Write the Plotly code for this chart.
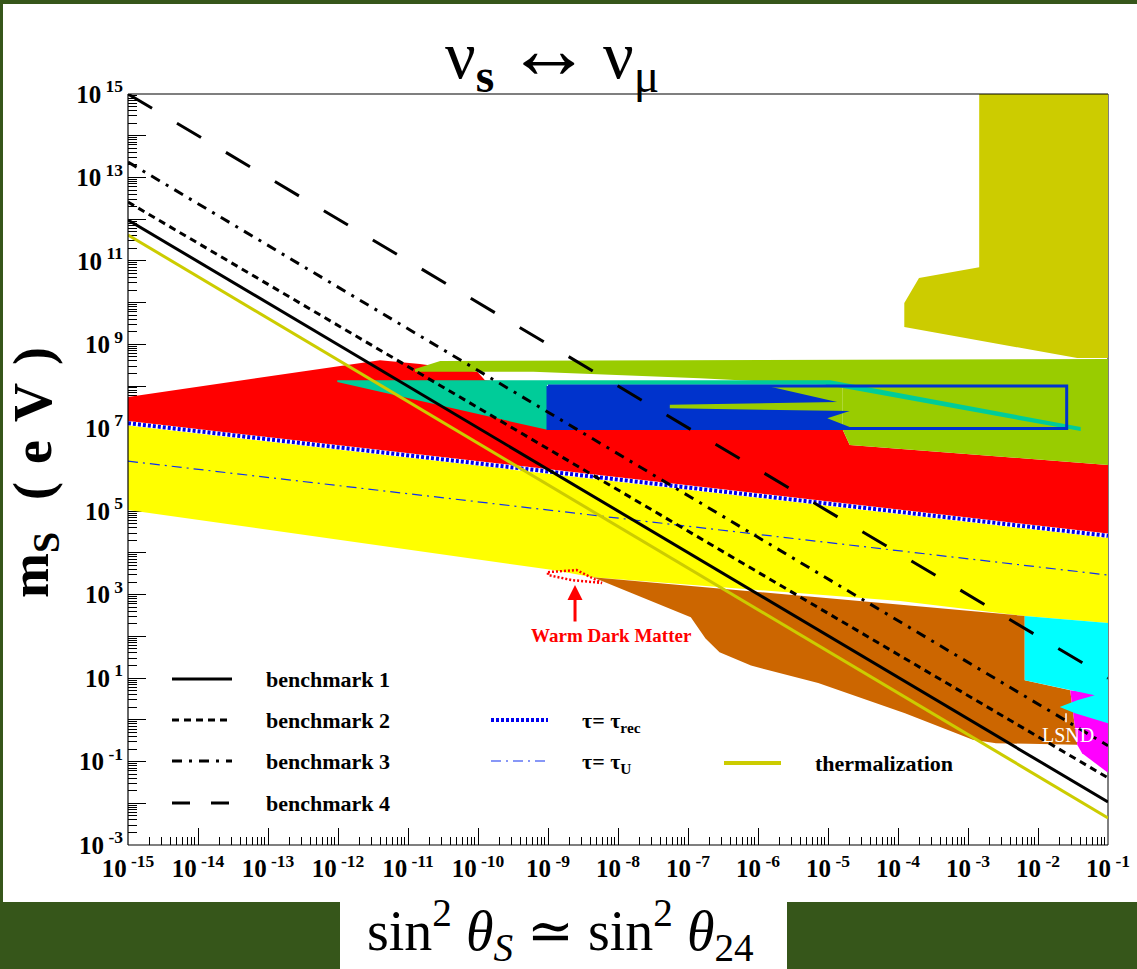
import plotly.graph_objects as go

# ---------------- data (log10 units) ----------------
X_ENDS = [-15.0, -1.0]                 # log10 sin^2(theta) at the two ends of each line
bm1_logm = [11.98, -1.97]
bm2_logm = [12.41, -1.39]
bm3_logm = [13.37, -0.62]
bm4_logm = [15.00, 1.00]
therm_logm = [11.62, -2.35]
tau_rec_logm = [7.11, 4.41]
tau_U_logm = [6.20, 3.47]

red_lx = [-15, -11.40, -10.83, -10.01, -9.90, -9.01, -4.79, -4.69, -1, -1, -15]
red_ly = [7.74, 8.62, 8.53, 8.34, 8.14, 8.00, 6.95, 6.59, 6.11, 4.41, 7.11]

greenA_lx = [-10.90, -10.54, -1, -1, -4.69, -4.79, -4.79, -4.97, -6.83, -9.21, -10.90]
greenA_ly = [8.41, 8.60, 8.65, 6.11, 6.59, 6.95, 8.00, 8.03, 8.19, 8.34, 8.34]
greenB_lx = [-7.40, -4.79, -4.79, -7.40]
greenB_ly = [8.00, 8.00, 6.95, 6.95]

olive_lx = [-2.84, -1, -1, -1.44, -3.91, -3.91, -3.70, -2.84]
olive_ly = [15, 15, 8.67, 8.67, 9.415, 9.99, 10.59, 10.85]

yellow_lx = [-15, -1, -1, -2.19, -3.97, -8.36, -8.93, -15]
yellow_ly = [7.11, 4.41, 2.32, 2.49, 2.85, 3.42, 3.59, 5.03]

brown_lx = [-8.36, -2.19, -2.19, -1.54, -1.44, -2.60, -2.93, -3.90, -5.14, -6.10, -6.55, -6.75, -6.96]
brown_ly = [3.42, 2.49, 0.95, 0.71, -0.60, -0.56, -0.48, 0.16, 0.88, 1.30, 1.62, 1.95, 2.46]

magenta_lx = [-1.54, -1, -1, -1.21, -1.37, -1.44]
magenta_ly = [0.71, 0.59, -1.27, -1.01, -0.80, -0.60]

cyan_lx = [-2.19, -1, -1, -1.47, -1.69, -1.44, -1.19, -1.54, -2.19]
cyan_ly = [2.49, 2.32, -0.08, 0.16, 0.31, 0.47, 0.59, 0.71, 0.95]

teal_lx = [-12.01, -4.97, -1.39, -1.39, -5.04, -9.01, -9.01, -12.01]
teal_ly = [8.14, 8.14, 7.02, 6.92, 8.03, 8.03, 6.95, 8.10]

blue_lx = [-9.01, -5.87, -4.87, -7.26, -7.26, -4.69, -5.01, -4.69, -4.69, -9.01]
blue_ly = [8.00, 8.00, 7.62, 7.55, 7.47, 7.40, 7.23, 7.02, 6.95, 6.95]

box_lx = [-9.0, -1.59, -1.59, -9.0, -9.0]
box_ly = [8.0, 8.0, 6.98, 6.98, 8.0]

wdm_lx = [-9.0, -8.59, -8.23, -8.66, -9.0, -9.0]
wdm_ly = [3.54, 3.59, 3.28, 3.35, 3.47, 3.54]

lsnd_lx = [-1.60, -1.60]
lsnd_ly = [0.16, -0.06]

x_exps = list(range(-15, 0))
y_exps = list(range(-3, 16))

legend_left = ["benchmark 1", "benchmark 2", "benchmark 3", "benchmark 4"]

# ---------------- figure ----------------
W, H = 1137, 969
L, R, T, B = 128, 1108, 94, 845


def px(xpix):
    return (xpix - L) / (R - L)


def py(ypix):
    return (B - ypix) / (B - T)


def tv(a):
    return [10 ** v for v in a]


fig = go.Figure()


def fill(lx, ly, color):
    fig.add_trace(go.Scatter(x=tv(lx), y=tv(ly), mode="lines", fill="toself",
                             fillcolor=color, line=dict(width=0, color=color),
                             hoverinfo="skip", showlegend=False))


fill(red_lx, red_ly, "#FF0000")
fill(greenA_lx, greenA_ly, "#99CC00")
fill(greenB_lx, greenB_ly, "#99CC00")
fill(olive_lx, olive_ly, "#CCCC00")
fill(yellow_lx, yellow_ly, "#FFFF00")
fill(brown_lx, brown_ly, "#CC6600")
fill(magenta_lx, magenta_ly, "#FF00FF")
fill(cyan_lx, cyan_ly, "#00FFFF")
fill(teal_lx, teal_ly, "#00CC99")
fill(blue_lx, blue_ly, "#0033CC")


def line(lx, ly, color, width, dash="solid"):
    fig.add_trace(go.Scatter(x=tv(lx), y=tv(ly), mode="lines",
                             line=dict(color=color, width=width, dash=dash),
                             hoverinfo="skip", showlegend=False))


line(box_lx, box_ly, "#0033CC", 3)
line(wdm_lx, wdm_ly, "#FF0000", 2.5, "2px,2px")
line(lsnd_lx, lsnd_ly, "white", 1.5)

line(X_ENDS, tau_U_logm, "#1030F0", 1.2, "10px,5px,2px,5px")
line(X_ENDS, tau_rec_logm, "white", 4.5)
line(X_ENDS, tau_rec_logm, "#0000EE", 4, "3px,2px")
line(X_ENDS, therm_logm, "#CCCC00", 3)
line(X_ENDS, bm1_logm, "black", 3)
line(X_ENDS, bm2_logm, "black", 3, "7px,5px")
line(X_ENDS, bm3_logm, "black", 3, "10px,7px,3px,7px")
line(X_ENDS, bm4_logm, "black", 3, "28px,29px")

# ---------------- axes ----------------
tick_font = dict(family="Liberation Serif", size=25, color="black")
x_minor = [k * 10.0 ** e for e in x_exps[:-1] for k in range(2, 10)]
y_minor = [k * 10.0 ** e for e in y_exps[:-1] for k in range(2, 10)]

fig.update_xaxes(type="log", range=[-15, -1], showgrid=False, zeroline=False,
                 showline=False, ticks="inside", ticklen=17, tickwidth=1, tickcolor="black",
                 tickvals=[10.0 ** e for e in x_exps],
                 ticktext=["<b>10<sup> %d</sup></b>" % e for e in x_exps],
                 tickfont=tick_font, layer="below traces", ticklabelstandoff=6,
                 automargin=False,
                 minor=dict(ticks="inside", ticklen=8, tickwidth=1, tickcolor="black",
                            tickvals=x_minor, showgrid=False))
fig.update_yaxes(type="log", range=[-3, 15], showgrid=False, zeroline=False,
                 showline=False, ticks="inside", ticklen=18, tickwidth=1, tickcolor="black",
                 tickvals=[10.0 ** e for e in y_exps],
                 ticktext=[("<b>10<sup> %d</sup></b>" % e) if e % 2 else "" for e in y_exps],
                 tickfont=tick_font, layer="below traces", ticklabelstandoff=4,
                 automargin=False,
                 minor=dict(ticks="inside", ticklen=9, tickwidth=1, tickcolor="black",
                            tickvals=y_minor, showgrid=False))

shapes = []
# page background: white panel over dark green border
shapes.append(dict(type="rect", xref="paper", yref="paper", layer="below",
                   x0=px(3), x1=px(1140), y0=py(902), y1=py(4),
                   fillcolor="white", line=dict(width=0)))
shapes.append(dict(type="rect", xref="paper", yref="paper", layer="below",
                   x0=px(340), x1=px(787), y0=py(972), y1=py(901),
                   fillcolor="white", line=dict(width=0)))
# frame
shapes.append(dict(type="line", xref="paper", yref="paper", layer="below",
                   x0=1, x1=1, y0=0, y1=1, line=dict(color="black", width=1)))
for (a, b, c, d) in [(0, 0, 0, 1), (0, 1, 0, 0), (0, 1, 1, 1)]:
    shapes.append(dict(type="line", xref="paper", yref="paper", layer="above",
                       x0=a, x1=b, y0=c, y1=d, line=dict(color="black", width=1.2)))

# legend samples
leg_y = [679, 720, 761, 803]
leg_dash = ["solid", "7px,5px", "10px,7px,3px,7px", "18px,21px"]
for yy, dsh in zip(leg_y, leg_dash):
    shapes.append(dict(type="line", xref="paper", yref="paper",
                       x0=px(172), x1=px(232), y0=py(yy), y1=py(yy),
                       line=dict(color="black", width=3, dash=dsh)))
shapes.append(dict(type="line", xref="paper", yref="paper",
                   x0=px(491), x1=px(548), y0=py(720), y1=py(720),
                   line=dict(color="#0000EE", width=4, dash="3px,2px")))
shapes.append(dict(type="line", xref="paper", yref="paper",
                   x0=px(491), x1=px(548), y0=py(761), y1=py(761),
                   line=dict(color="#1030F0", width=1.2, dash="10px,5px,2px,5px")))
shapes.append(dict(type="line", xref="paper", yref="paper",
                   x0=px(724), x1=px(781), y0=py(763), y1=py(763),
                   line=dict(color="#CCCC00", width=4)))

serif = "Liberation Serif, DejaVu Serif, serif"
ann = []
for yy, name in zip(leg_y, legend_left):
    ann.append(dict(xref="paper", yref="paper", x=px(264), y=py(yy), xanchor="left",
                    yanchor="middle", showarrow=False, text="<b>%s</b>" % name,
                    font=dict(family=serif, size=22, color="black")))
ann.append(dict(xref="paper", yref="paper", x=px(580), y=py(722), xanchor="left",
                yanchor="middle", showarrow=False, text="<b>τ= τ<sub>rec</sub></b>",
                font=dict(family=serif, size=22, color="black")))
ann.append(dict(xref="paper", yref="paper", x=px(580), y=py(763), xanchor="left",
                yanchor="middle", showarrow=False, text="<b>τ= τ<sub>U</sub></b>",
                font=dict(family=serif, size=22, color="black")))
ann.append(dict(xref="paper", yref="paper", x=px(813), y=py(763), xanchor="left",
                yanchor="middle", showarrow=False, text="<b>thermalization</b>",
                font=dict(family=serif, size=22, color="black")))

# in-plot labels (annotation coords on log axes are log10)
ann.append(dict(xref="x", yref="y", x=-8.614, y=3.23, ax=0, ay=38, showarrow=True,
                arrowhead=2, arrowsize=1, arrowwidth=3, arrowcolor="#FF0000", text=""))
ann.append(dict(xref="x", yref="y", x=-8.09, y=2.03, showarrow=False,
                text="<b>Warm Dark Matter</b>",
                font=dict(family=serif, size=19, color="#FF0000")))
ann.append(dict(xref="x", yref="y", x=-1.57, y=-0.36, showarrow=False, text="LSND",
                font=dict(family=serif, size=20, color="white")))

# titles
ann.append(dict(xref="paper", yref="paper", x=px(552), y=py(52), xanchor="center",
                yanchor="middle", showarrow=False,
                text="ν<sub><b>s</b></sub>\u2006<span style=\"font-size:86px\">↔</span>\u2006ν<sub>μ</sub>",
                font=dict(family=serif, size=68, color="black")))
ann.append(dict(xref="paper", yref="paper", x=px(33), y=py(565), xanchor="center",
                yanchor="middle", showarrow=False, textangle=-90,
                text="<b>m<sub>S</sub></b>",
                font=dict(family=serif, size=54, color="black")))
ann.append(dict(xref="paper", yref="paper", x=px(33), y=py(424), xanchor="center",
                yanchor="middle", showarrow=False, textangle=-90,
                text="<b>(\u2004e\u2004V\u2004)</b>",
                font=dict(family=serif, size=54, color="black")))
ann.append(dict(xref="paper", yref="paper", x=px(560), y=py(930), xanchor="center",
                yanchor="middle", showarrow=False,
                text="sin<sup>2</sup> <i>θ</i><sub><i>S</i></sub> ≃ sin<sup>2</sup> <i>θ</i><sub>24</sub>",
                font=dict(family=serif, size=56, color="black")))

fig.update_layout(width=W, height=H, autosize=False,
                  margin=dict(l=L, r=W - R, t=T, b=H - B, pad=0, autoexpand=False),
                  paper_bgcolor="#36561A", plot_bgcolor="white",
                  shapes=shapes, annotations=ann, showlegend=False)

fig.write_html("out.html")
